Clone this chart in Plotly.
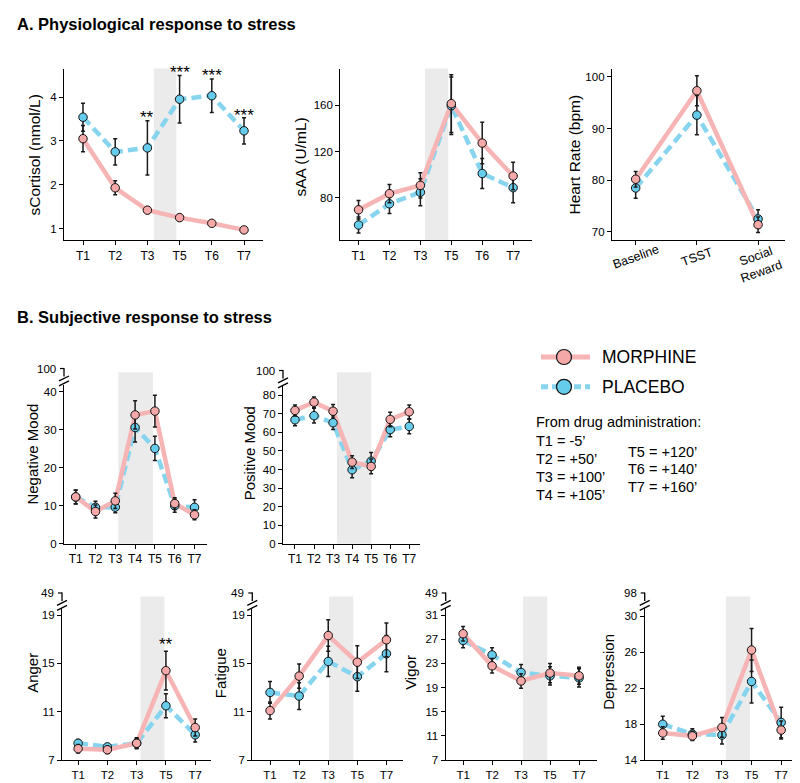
import plotly.graph_objects as go

W, H = 800, 783
FONT = "Liberation Sans, Arial, sans-serif"
PINK_LINE = "#F7B4B4"
PINK_MARK = "#F4A8A8"
BLUE_LINE = "#86D4EE"
BLUE_MARK = "#66CCEC"
ERR_COL = "#1a1a1a"
SHADE = "#EBEBEB"

# ---------------- data ----------------
cort_labels = ["T1", "T2", "T3", "T5", "T6", "T7"]
cort_morphine = [3.05, 1.93, 1.42, 1.25, 1.12, 0.97]
cort_morphine_err = [0.30, 0.16, 0.07, 0.07, 0.06, 0.05]
cort_placebo = [3.54, 2.75, 2.84, 3.95, 4.03, 3.23]
cort_placebo_err = [0.32, 0.30, 0.62, 0.54, 0.38, 0.30]
cort_yticks = [1, 2, 3, 4]
cort_sig_x = [2, 3, 4, 5]
cort_sig_y = [3.54, 4.56, 4.49, 3.59]
cort_sig_text = ["**", "***", "***", "***"]

saa_labels = ["T1", "T2", "T3", "T5", "T6", "T7"]
saa_morphine = [69.4, 83.4, 90.6, 161.5, 127.3, 98.7]
saa_morphine_err = [8, 8, 11, 25, 18, 12]
saa_placebo = [56.2, 74.6, 84.6, 159.7, 100.9, 88.6]
saa_placebo_err = [7, 8.5, 11.7, 25, 13, 13]
saa_yticks = [80, 120, 160]

hr_labels = ["Baseline", "TSST", "Social<br>Reward"]
hr_morphine = [80.2, 97.3, 71.4]
hr_morphine_err = [1.5, 2.9, 1.5]
hr_placebo = [78.5, 92.6, 72.5]
hr_placebo_err = [2.0, 3.8, 1.8]
hr_yticks = [70, 80, 90, 100]

mood_labels = ["T1", "T2", "T3", "T4", "T5", "T6", "T7"]
neg_morphine = [12.35, 8.5, 11.3, 33.9, 34.9, 10.6, 7.65]
neg_morphine_err = [1.8, 1.7, 2.0, 3.7, 4.2, 1.5, 1.3]
neg_placebo = [12.3, 9.6, 9.65, 30.6, 25.1, 10.0, 9.6]
neg_placebo_err = [1.8, 1.6, 1.5, 3.8, 3.2, 1.7, 2.0]
neg_yticks = [0, 10, 20, 30, 40]

pos_morphine = [71.8, 76.3, 71.4, 44.0, 41.7, 67.0, 71.1]
pos_morphine_err = [3.0, 2.8, 3.6, 3.4, 4.0, 3.9, 3.7]
pos_placebo = [66.8, 69.0, 65.2, 39.9, 44.5, 61.5, 63.2]
pos_placebo_err = [3.2, 4.0, 3.7, 4.3, 4.7, 3.8, 3.9]
pos_yticks = [0, 10, 20, 30, 40, 50, 60, 70, 80]

poms_labels = ["T1", "T2", "T3", "T5", "T7"]
anger_morphine = [7.95, 7.86, 8.4, 14.4, 9.7]
anger_morphine_err = [0.35, 0.3, 0.45, 1.6, 0.7]
anger_placebo = [8.4, 8.1, 8.4, 11.5, 9.1]
anger_placebo_err = [0.3, 0.25, 0.4, 1.0, 0.6]
anger_yticks = [7, 11, 15, 19]
anger_sig_x = [3]
anger_sig_y = [16.6]
anger_sig_text = ["**"]

fatigue_morphine = [11.1, 13.95, 17.3, 15.1, 16.95]
fatigue_morphine_err = [0.7, 1.0, 1.3, 1.35, 1.4]
fatigue_placebo = [12.6, 12.3, 15.16, 13.9, 15.8]
fatigue_placebo_err = [0.9, 1.1, 1.25, 1.2, 1.5]
fatigue_yticks = [7, 11, 15, 19]

vigor_morphine = [27.9, 22.6, 20.1, 21.4, 20.95]
vigor_morphine_err = [1.2, 1.2, 1.2, 1.6, 1.4]
vigor_placebo = [26.8, 24.4, 21.5, 20.95, 20.6]
vigor_placebo_err = [1.2, 1.2, 1.3, 1.5, 1.5]
vigor_yticks = [7, 11, 15, 19, 23, 27, 31]

dep_morphine = [17.03, 16.7, 17.65, 26.26, 17.36]
dep_morphine_err = [0.7, 0.5, 1.1, 2.4, 1.0]
dep_placebo = [18.0, 16.9, 16.8, 22.76, 18.2]
dep_placebo_err = [0.9, 0.6, 1.0, 2.4, 1.7]
dep_yticks = [14, 18, 22, 26, 30]

break_labels = {"neg": "100", "pos": "100", "anger": "49", "fatigue": "49",
                "vigor": "49", "dep": "98"}

legend_names = ["MORPHINE", "PLACEBO"]
timing_left = ["T1 = -5’", "T2 = +50’", "T3 = +100’", "T4 = +105’"]
timing_right = ["T5 = +120’", "T6 = +140’", "T7 = +160’"]

# ---------------- panel geometry (pixels) ----------------
BOT_T, BOT_B = 605, 758
panels = [
    dict(key="cort", labels=cort_labels, m=cort_morphine, me=cort_morphine_err,
         p=cort_placebo, pe=cort_placebo_err, yt=cort_yticks, title="sCortisol (nmol/L)",
         box=(56, 255, 61, 234), xr=[-0.59, 5.59], yr=[0.735, 4.65], shade=(2.2, 2.9, 61),
         tx=(26.7, 148), tfs=15.5),
    dict(key="saa", labels=saa_labels, m=saa_morphine, me=saa_morphine_err,
         p=saa_placebo, pe=saa_placebo_err, yt=saa_yticks, title="sAA (U/mL)",
         box=(332.3, 524, 61, 234), xr=[-0.59, 5.61], yr=[43, 192], shade=(2.15, 2.9, 61),
         tx=(292.7, 150), tfs=15.5),
    dict(key="hr", labels=hr_labels, m=hr_morphine, me=hr_morphine_err,
         p=hr_placebo, pe=hr_placebo_err, yt=hr_yticks, title="Heart Rate (bpm)",
         box=(604, 777, 61, 234), xr=[-0.387, 2.44], yr=[68.4, 101.6], shade=None,
         tx=(566.7, 148), tfs=15.5, rot=True),
    dict(key="neg", labels=mood_labels, m=neg_morphine, me=neg_morphine_err,
         p=neg_placebo, pe=neg_placebo_err, yt=neg_yticks, title="Negative Mood",
         box=(56, 199, 380, 540), xr=[-0.59, 6.63], yr=[0, 41.75], shade=(2.15, 3.9, 367),
         tx=(25, 450), tfs=15, brk=363.3),
    dict(key="pos", labels=mood_labels, m=pos_morphine, me=pos_morphine_err,
         p=pos_placebo, pe=pos_placebo_err, yt=pos_yticks, title="Positive Mood",
         box=(275, 411.7, 380.7, 540), xr=[-0.63, 6.55], yr=[0, 85.1], shade=(2.2, 4.0, 367),
         tx=(241.7, 449), tfs=15, brk=365.3),
    dict(key="anger", labels=poms_labels, m=anger_morphine, me=anger_morphine_err,
         p=anger_placebo, pe=anger_placebo_err, yt=anger_yticks, title="Anger",
         box=(54, 203, BOT_T, BOT_B), xr=[-0.55, 4.54], yr=[7, 19.55], shade=(2.13, 2.95, 593),
         tx=(25, 670), tfs=15, brk=589.5),
    dict(key="fatigue", labels=poms_labels, m=fatigue_morphine, me=fatigue_morphine_err,
         p=fatigue_placebo, pe=fatigue_placebo_err, yt=fatigue_yticks, title="Fatigue",
         box=(244.3, 395, BOT_T, BOT_B), xr=[-0.61, 4.57], yr=[7, 19.55], shade=(2.03, 2.86, 593),
         tx=(213.3, 670), tfs=15, brk=589.5),
    dict(key="vigor", labels=poms_labels, m=vigor_morphine, me=vigor_morphine_err,
         p=vigor_placebo, pe=vigor_placebo_err, yt=vigor_yticks, title="Vigor",
         box=(437.7, 589, BOT_T, BOT_B), xr=[-0.6, 4.62], yr=[7, 32.1], shade=(2.07, 2.9, 593),
         tx=(403, 670), tfs=15, brk=589.5),
    dict(key="dep", labels=poms_labels, m=dep_morphine, me=dep_morphine_err,
         p=dep_placebo, pe=dep_placebo_err, yt=dep_yticks, title="Depression",
         box=(636.7, 792.7, BOT_T, BOT_B), xr=[-0.61, 4.66], yr=[14, 30.9], shade=(2.13, 2.95, 593),
         tx=(601, 669), tfs=15, brk=589.5),
]
sig_marks = {"cort": (cort_sig_x, cort_sig_y, cort_sig_text),
             "anger": (anger_sig_x, anger_sig_y, anger_sig_text)}


def fx(x):
    return x / W


def fy(y):
    return 1 - y / H


fig = go.Figure()
layout = {}
shapes = []
annotations = []
AX = dict(showline=True, linecolor="black", linewidth=1.3, ticks="outside", ticklen=4,
          tickwidth=1.2, tickcolor="black", showgrid=False, zeroline=False, fixedrange=True)

for i, pn in enumerate(panels, start=1):
    sfx = "" if i == 1 else str(i)
    xr_, yr_ = "x" + sfx, "y" + sfx
    n = len(pn["labels"])
    xs = list(range(n))
    common = dict(xaxis=xr_, yaxis=yr_, showlegend=False, hoverinfo="skip", cliponaxis=False)
    fig.add_trace(go.Scatter(x=xs, y=pn["p"], mode="lines",
                             line=dict(color=BLUE_LINE, width=4.5, dash="10px,5px"), **common))
    fig.add_trace(go.Scatter(x=xs, y=pn["m"], mode="lines",
                             line=dict(color=PINK_LINE, width=4.5), **common))
    fig.add_trace(go.Scatter(x=xs, y=pn["p"], mode="markers",
                             marker=dict(size=8.5, color=BLUE_MARK, line=dict(color="#111", width=1)),
                             error_y=dict(type="data", array=pn["pe"], color=ERR_COL, thickness=1.5, width=2),
                             **common))
    fig.add_trace(go.Scatter(x=xs, y=pn["m"], mode="markers",
                             marker=dict(size=8.5, color=PINK_MARK, line=dict(color="#111", width=1)),
                             error_y=dict(type="data", array=pn["me"], color=ERR_COL, thickness=1.5, width=2),
                             **common))
    x0, x1, yt, yb = pn["box"]
    rot = pn.get("rot", False)
    bottom_row = yb > 700
    layout["xaxis" + sfx] = dict(AX, domain=[fx(x0), fx(x1)], range=pn["xr"], anchor=yr_,
                                 tickvals=xs, ticktext=pn["labels"], showticklabels=not rot,
                                 ticklen=3.5 if bottom_row else 4,
                                 tickfont=dict(size=11.5 if bottom_row else 12, color="black"))
    layout["yaxis" + sfx] = dict(AX, domain=[fy(yb), fy(yt)], range=pn["yr"], anchor=xr_,
                                 tickvals=pn["yt"], tickfont=dict(size=11.5, color="black"))
    if rot:
        for k, lab in enumerate(pn["labels"]):
            two = "<br>" in lab
            annotations.append(dict(x=k, xref=xr_, y=fy(257.5 if two else 251), yref="paper",
                                    text=lab, showarrow=False, textangle=-20,
                                    font=dict(size=12.5, color="black"),
                                    xanchor="center", yanchor="middle"))
    if pn["shade"]:
        s0, s1, stop = pn["shade"]
        shapes.append(dict(type="rect", xref=xr_, yref="paper", x0=s0, x1=s1,
                           y0=fy(yb), y1=fy(stop), fillcolor=SHADE, line=dict(width=0),
                           layer="below"))
    annotations.append(dict(x=fx(pn["tx"][0]), y=fy(pn["tx"][1]), xref="paper", yref="paper",
                            text=pn["title"], textangle=-90, showarrow=False,
                            font=dict(size=pn["tfs"], color="black"),
                            xanchor="center", yanchor="middle"))
    if "brk" in pn:
        yb100 = pn["brk"]
        lw = dict(color="black", width=1.3)
        shapes.append(dict(type="line", xref="paper", yref="paper", x0=fx(x0), x1=fx(x0),
                           y0=fy(yb100 - 0.6), y1=fy(yb100 + 8), line=lw))
        shapes.append(dict(type="line", xref="paper", yref="paper", x0=fx(x0 - 4), x1=fx(x0),
                           y0=fy(yb100), y1=fy(yb100), line=dict(color="black", width=1.2)))
        for dy in (10, 15):
            shapes.append(dict(type="line", xref="paper", yref="paper",
                               x0=fx(x0 - 5), x1=fx(x0 + 5),
                               y0=fy(yb100 + dy + 2.5), y1=fy(yb100 + dy - 2.5), line=lw))
        annotations.append(dict(x=fx(x0 - 6), y=fy(yb100), xref="paper", yref="paper",
                                text=break_labels[pn["key"]], showarrow=False,
                                font=dict(size=11.5, color="black"),
                                xanchor="right", yanchor="middle"))
    if pn["key"] in sig_marks:
        sx, sy, st = sig_marks[pn["key"]]
        for a, b, t in zip(sx, sy, st):
            annotations.append(dict(x=a, y=b, xref=xr_, yref=yr_, text=t, showarrow=False,
                                    font=dict(size=17, color="black"),
                                    xanchor="center", yanchor="middle"))

# ---------------- legend (drawn in a pixel-coordinate overlay axis) ----------------
LX, LY = "x10", "y10"
layout["xaxis10"] = dict(domain=[0, 1], range=[0, W], visible=False, fixedrange=True, anchor=LY)
layout["yaxis10"] = dict(domain=[0, 1], range=[H, 0], visible=False, fixedrange=True, anchor=LX)
leg_y = [351.7, 381.7]
leg_cols = [(PINK_LINE, PINK_MARK, None), (BLUE_LINE, BLUE_MARK, "7px,4px")]
for name, ly, (lc, mc, dash) in zip(legend_names, leg_y, leg_cols):
    fig.add_trace(go.Scatter(x=[533, 582], y=[ly, ly], mode="lines", xaxis=LX, yaxis=LY,
                             line=dict(color=lc, width=5, dash=dash), showlegend=False,
                             hoverinfo="skip", cliponaxis=False))
    fig.add_trace(go.Scatter(x=[556], y=[ly], mode="markers", xaxis=LX, yaxis=LY,
                             marker=dict(size=15, color=mc, line=dict(color="#111", width=1.2)),
                             showlegend=False, hoverinfo="skip", cliponaxis=False))
    annotations.append(dict(x=fx(592), y=fy(ly), xref="paper", yref="paper", text=name,
                            showarrow=False, font=dict(size=17.5, color="black"),
                            xanchor="left", yanchor="middle"))

annotations.append(dict(x=fx(526), y=fy(417), xref="paper", yref="paper",
                        text="From drug administration:", showarrow=False,
                        font=dict(size=14.5, color="black"), xanchor="left", yanchor="middle"))
for k, t in enumerate(timing_left):
    annotations.append(dict(x=fx(526), y=fy(436.7 + 18 * k), xref="paper", yref="paper",
                            text=t, showarrow=False, font=dict(size=14.5, color="black"),
                            xanchor="left", yanchor="middle"))
for k, t in enumerate(timing_right):
    annotations.append(dict(x=fx(617.7), y=fy(447 + 18 * k), xref="paper", yref="paper",
                            text=t, showarrow=False, font=dict(size=14.5, color="black"),
                            xanchor="left", yanchor="middle"))

# section titles
annotations.append(dict(x=fx(7), y=fy(16.5), xref="paper", yref="paper",
                        text="<b>A. Physiological response to stress</b>", showarrow=False,
                        font=dict(size=16.5, color="black"), xanchor="left", yanchor="middle"))
annotations.append(dict(x=fx(7), y=fy(311), xref="paper", yref="paper",
                        text="<b>B. Subjective response to stress</b>", showarrow=False,
                        font=dict(size=16.5, color="black"), xanchor="left", yanchor="middle"))

fig.update_layout(
    width=W, height=H, margin=dict(l=0, r=0, t=0, b=0),
    paper_bgcolor="white", plot_bgcolor="rgba(0,0,0,0)",
    font=dict(family=FONT, color="black"),
    shapes=shapes, annotations=annotations, showlegend=False,
    **layout,
)
fig.write_html("out.html")
